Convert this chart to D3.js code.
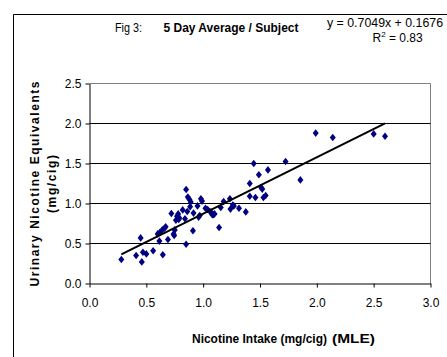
<!DOCTYPE html>
<html>
<head>
<meta charset="utf-8">
<script src="https://cdn.jsdelivr.net/npm/d3@7"></script>
<style>
  body { margin: 0; background: #fff; }
  svg { display: block; }
  text { font-family: "Liberation Sans", Arial, sans-serif; fill: #000; }
</style>
</head>
<body>
<svg></svg>
<script>
// Nicotine intake (mg/cig, MLE) per subject
const intake = [0.28, 0.41, 0.46, 0.45, 0.47, 0.50, 0.56, 0.60, 0.62, 0.645, 0.64, 0.66,
  0.67, 0.615, 0.69, 0.72, 0.74, 0.745, 0.75, 0.76, 0.77, 0.78, 0.785, 0.79, 0.82,
  0.84, 0.85, 0.85, 0.86, 0.865, 0.88, 0.885, 0.89, 0.91, 0.915, 0.95, 0.96, 0.97,
  0.98, 0.99, 1.02, 1.04, 1.06, 1.07, 1.08, 1.09, 1.10, 1.14, 1.155, 1.18, 1.235,
  1.24, 1.26, 1.27, 1.315, 1.375, 1.41, 1.41, 1.445, 1.46, 1.49, 1.51, 1.52, 1.53,
  1.55, 1.57, 1.725, 1.855, 1.99, 2.14, 2.50, 2.60];
// 5 day average urinary nicotine equivalents (mg/cig)
const urinary = [0.30, 0.35, 0.27, 0.57, 0.39, 0.37, 0.41, 0.62, 0.64, 0.36, 0.67, 0.69,
  0.71, 0.53, 0.55, 0.875, 0.62, 0.60, 0.67, 0.79, 0.84, 0.87, 0.80, 0.82, 0.92,
  0.81, 1.175, 0.49, 0.90, 1.08, 1.05, 0.96, 1.02, 0.66, 0.88, 0.97, 0.83, 0.85,
  1.06, 1.03, 0.94, 0.925, 0.90, 0.89, 0.86, 0.86, 0.87, 0.70, 0.95, 1.025, 1.06,
  0.93, 0.98, 0.97, 0.94, 0.895, 1.25, 1.09, 1.50, 1.075, 1.36, 1.20, 1.18, 1.075,
  1.10, 1.42, 1.525, 1.295, 1.88, 1.825, 1.87, 1.84];

const xTicks = [0, 0.5, 1, 1.5, 2, 2.5, 3];
const yTicks = [0, 0.5, 1, 1.5, 2, 2.5];
const slope = 0.7049, intercept = 0.1676;

const width = 447, height = 357;
const svg = d3.select("svg").attr("width", width).attr("height", height);

// outer chart border (left + top only visible)
svg.append("path")
  .attr("d", "M13.5,357V14.5H447")
  .attr("fill", "none").attr("stroke", "#000");

const x = d3.scaleLinear().domain([0, 3]).range([89.5, 430.5]);
const y = d3.scaleLinear().domain([0, 2.5]).range([283.5, 83.5]);

// plot area border (grey)
svg.append("path")
  .attr("d", `M${x(0)},${y(2.5)}H${x(3)}V${y(0)}`)
  .attr("fill", "none").attr("stroke", "#808080");

// gridlines
svg.append("g").selectAll("line")
  .data(yTicks.filter(d => d > 0 && d < 2.5))
  .join("line")
  .attr("x1", x(0)).attr("x2", x(3))
  .attr("y1", d => y(d)).attr("y2", d => y(d))
  .attr("stroke", "#000");

// axes
const xAxis = svg.append("g")
  .attr("transform", `translate(0,${y(0)})`)
  .call(d3.axisBottom(x).tickValues(xTicks).tickFormat(d3.format(".1f"))
    .tickSizeInner(4).tickSizeOuter(0).tickPadding(11));
const yAxis = svg.append("g")
  .attr("transform", `translate(${x(0)},0)`)
  .call(d3.axisLeft(y).tickValues(yTicks).tickFormat(d3.format(".1f"))
    .tickSizeInner(4).tickSizeOuter(0).tickPadding(4));
[xAxis, yAxis].forEach(g => {
  g.select(".domain").attr("stroke", "#000");
  g.selectAll(".tick line").attr("stroke", "#000");
  g.selectAll(".tick text")
    .attr("font-family", "'Liberation Sans', Arial, sans-serif")
    .attr("font-size", 12)
    .attr("fill", "#000");
});

// diamond marker
const diamond = {
  draw(ctx) {
    ctx.moveTo(0, -3.8); ctx.lineTo(3, 0); ctx.lineTo(0, 3.8); ctx.lineTo(-3, 0); ctx.closePath();
  }
};
svg.append("g").selectAll("path")
  .data(intake.map((v, i) => [v, urinary[i]]))
  .join("path")
  .attr("transform", d => `translate(${x(d[0])},${y(d[1])})`)
  .attr("d", d3.symbol(diamond))
  .attr("fill", "#000080");

// trend line
const xr = d3.extent(intake);
svg.append("line")
  .attr("x1", x(xr[0])).attr("y1", y(slope * xr[0] + intercept))
  .attr("x2", x(xr[1])).attr("y2", y(slope * xr[1] + intercept))
  .attr("stroke", "#000").attr("stroke-width", 2);

// titles
svg.append("text").attr("x", 115).attr("y", 32)
  .attr("font-size", 12).attr("textLength", 27).attr("lengthAdjust", "spacingAndGlyphs")
  .text("Fig 3:");
svg.append("text").attr("x", 163.5).attr("y", 32)
  .attr("font-size", 12.5).attr("font-weight", "bold")
  .attr("textLength", 135).attr("lengthAdjust", "spacingAndGlyphs")
  .text("5 Day Average / Subject");

svg.append("text").attr("x", 327).attr("y", 26.5)
  .attr("font-size", 12).attr("textLength", 116).attr("lengthAdjust", "spacingAndGlyphs")
  .text(`y = ${slope}x + ${intercept}`);
const r2 = svg.append("text").attr("x", 372.5).attr("y", 41.5).attr("font-size", 12);
r2.append("tspan").text("R");
r2.append("tspan").attr("dy", -5).attr("font-size", 8).text("2");
r2.append("tspan").attr("dy", 5).text(" = 0.83");

const xt = svg.append("text").attr("y", 342.5).attr("font-size", 12.5).attr("font-weight", "bold");
xt.append("tspan").attr("x", 192).attr("textLength", 135).attr("lengthAdjust", "spacingAndGlyphs")
  .text("Nicotine Intake (mg/cig)");
xt.append("tspan").attr("x", 332).attr("textLength", 43).attr("lengthAdjust", "spacingAndGlyphs")
  .attr("font-size", 13).text("(MLE)");

svg.append("text")
  .attr("transform", "translate(38.5,184) rotate(-90)")
  .attr("text-anchor", "middle").attr("font-size", 12).attr("font-weight", "bold")
  .attr("textLength", 205).attr("lengthAdjust", "spacing")
  .text("Urinary Nicotine Equivalents");
svg.append("text")
  .attr("transform", "translate(56,184) rotate(-90)")
  .attr("text-anchor", "middle").attr("font-size", 12).attr("font-weight", "bold")
  .attr("textLength", 58).attr("lengthAdjust", "spacing")
  .text("(mg/cig)");
</script>
</body>
</html>
